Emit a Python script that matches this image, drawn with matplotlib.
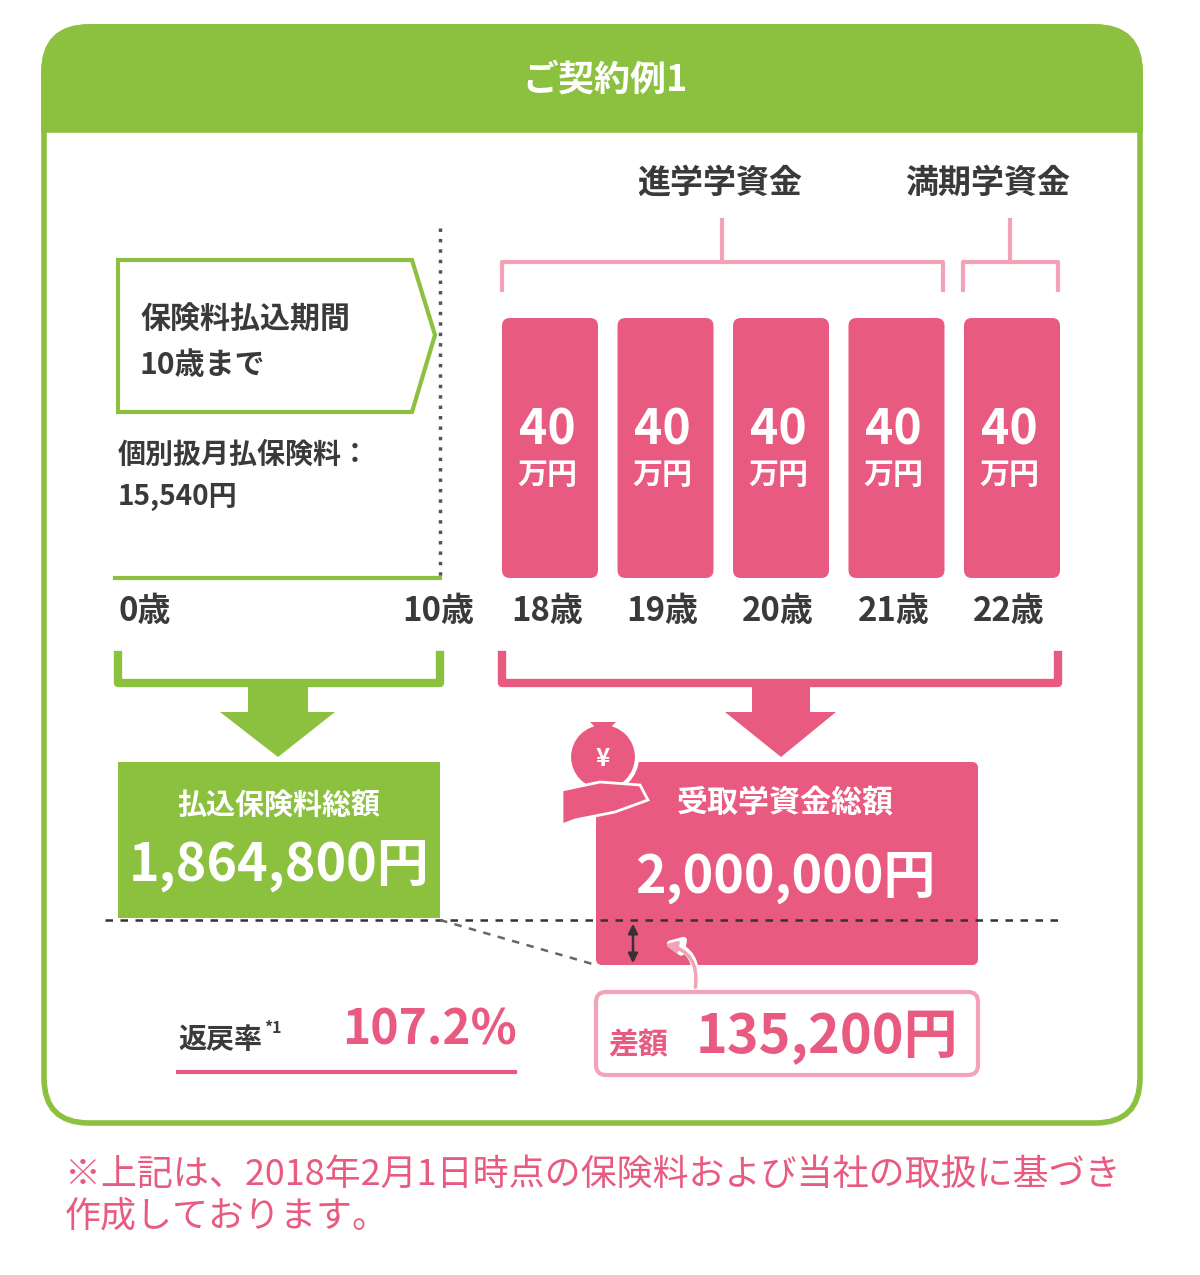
import matplotlib
matplotlib.use("Agg")
import matplotlib.pyplot as plt
from matplotlib.patches import FancyBboxPatch, Polygon, Rectangle, Circle, FancyArrowPatch

plt.rcParams['font.family'] = ['Noto Sans CJK JP', 'DejaVu Sans']

ages = ["18歳", "19歳", "20歳", "21歳", "22歳"]
amounts = [40, 40, 40, 40, 40]
unit = "万円"
title = "ご契約例1"
paid_total = "1,864,800円"
received_total = "2,000,000円"
diff = "135,200円"
rate = "107.2%"

G = "#8cc03f"; P = "#e95a80"; LP = "#f2a3b8"; T = "#3a3a3a"
fig = plt.figure(figsize=(12, 12.75), dpi=100)
ax = fig.add_axes([0, 0, 1, 1])
ax.set_xlim(0, 1200); ax.set_ylim(1275, 0); ax.axis('off')
px = 0.72

ax.add_patch(FancyBboxPatch((44, 27), 1096, 1096, boxstyle="round,pad=0,rounding_size=45", fc="white", ec=G, lw=4))
ax.add_patch(FancyBboxPatch((44, 27), 1096, 90, boxstyle="round,pad=0,rounding_size=45", fc=G, ec=G, lw=4))
ax.add_patch(Rectangle((44, 75), 1096, 55, fc=G, ec=G, lw=4))
ax.text(605, 80, title, color="white", fontsize=36*px, weight="bold", ha="center", va="center")

# payment period box
ax.add_patch(Polygon([(118, 260), (412, 260), (435, 335), (412, 412), (118, 412)], closed=True, fc="white", ec=G, lw=3))
ax.text(140, 320, "保険料払込期間", color=T, fontsize=30*px, weight="bold", va="center")
ax.text(140, 365, "10歳まで", color=T, fontsize=30*px, weight="bold", va="center")
ax.text(118, 455, "個別扱月払保険料：", color=T, fontsize=28*px, weight="bold", va="center")
ax.text(118, 497, "15,540円", color=T, fontsize=28*px, weight="bold", va="center")
ax.plot([440, 440], [228, 578], color="#555", lw=2.5, ls=(0, (1, 2)))
ax.plot([115, 440], [578, 578], color=G, lw=3)
ax.text(118, 612, "0歳", color=T, fontsize=33*px, weight="bold", va="center")
ax.text(474, 612, "10歳", color=T, fontsize=33*px, weight="bold", va="center", ha="right")

# bars
xs = [550 + 115.5 * i for i in range(len(ages))]
for x, a, v in zip(xs, ages, amounts):
    ax.add_patch(FancyBboxPatch((x - 44, 322), 88, 252, boxstyle="round,pad=4,rounding_size=8", fc=P, ec="none"))
    ax.text(x - 3, 430, str(v), color="white", fontsize=48*px, weight="bold", ha="center", va="center")
    ax.text(x - 3, 475, unit, color="white", fontsize=30*px, weight="bold", ha="center", va="center")
    ax.text(x - 3, 612, a, color=T, fontsize=33*px, weight="bold", ha="center", va="center")

# top brackets
ax.plot([502, 502, 943, 943], [290, 262, 262, 290], color=LP, lw=3)
ax.plot([722, 722], [262, 220], color=LP, lw=3)
ax.plot([963, 963, 1058, 1058], [290, 262, 262, 290], color=LP, lw=3)
ax.plot([1010, 1010], [262, 220], color=LP, lw=3)
ax.text(720, 183, "進学学資金", color=T, fontsize=33*px, weight="bold", ha="center", va="center")
ax.text(988, 183, "満期学資金", color=T, fontsize=33*px, weight="bold", ha="center", va="center")

# bottom brackets and arrows
ax.plot([118, 118, 440, 440], [655, 683, 683, 655], color=G, lw=6)
ax.add_patch(Polygon([(248, 683), (308, 683), (308, 712), (335, 712), (278, 757), (220, 712), (248, 712)], fc=G, ec="none"))
ax.plot([502, 502, 1058, 1058], [655, 683, 683, 655], color=P, lw=6)
ax.add_patch(Polygon([(752, 683), (810, 683), (810, 712), (836, 712), (781, 757), (725, 712), (752, 712)], fc=P, ec="none"))

# totals
ax.add_patch(Rectangle((118, 762), 322, 156, fc=G, ec="none"))
ax.text(279, 805, "払込保険料総額", color="white", fontsize=29*px, weight="bold", ha="center", va="center")
ax.text(279, 865, paid_total, color="white", fontsize=52*px, weight="bold", ha="center", va="center")
ax.add_patch(FancyBboxPatch((596, 762), 382, 203, boxstyle="round,pad=0,rounding_size=6", fc=P, ec="none"))
ax.text(785, 803, "受取学資金総額", color="white", fontsize=31*px, weight="bold", ha="center", va="center")
ax.text(785, 877, received_total, color="white", fontsize=52*px, weight="bold", ha="center", va="center")

# money icon
ax.add_patch(Circle((603, 757), 34, fc=P, ec="white", lw=3))
ax.add_patch(Polygon([(590, 722), (616, 722), (608, 730), (598, 730)], fc=P, ec="none"))
ax.text(603, 759, "¥", color="white", fontsize=24*px, weight="bold", ha="center", va="center")
ax.add_patch(Polygon([(562, 790), (600, 782), (640, 785), (648, 800), (615, 812), (575, 820), (562, 825)], fc=P, ec="white", lw=2))

ax.plot([105, 1058], [920, 920], color="#333", lw=1.8, ls=(0, (3, 3)))
ax.plot([440, 596], [920, 965], color="#666", lw=1.8, ls=(0, (3, 3)))
ax.add_patch(FancyArrowPatch((633, 921), (633, 966), arrowstyle="<|-|>", mutation_scale=14, color="#333", lw=1.8))
ax.add_patch(FancyArrowPatch((695, 990), (660, 942), connectionstyle="arc3,rad=0.5", arrowstyle="-|>", mutation_scale=22, color="white", lw=5))
ax.add_patch(FancyArrowPatch((695, 990), (662, 944), connectionstyle="arc3,rad=0.5", arrowstyle="-|>", mutation_scale=16, color=LP, lw=2.5))

ax.add_patch(FancyBboxPatch((596, 992), 382, 83, boxstyle="round,pad=0,rounding_size=10", fc="white", ec=LP, lw=3))
ax.text(608, 1045, "差額", color=P, fontsize=30*px, weight="bold", va="center")
ax.text(696, 1038, diff, color=P, fontsize=54*px, weight="bold", va="center")
ax.text(178, 1040, "返戻率", color=T, fontsize=28*px, weight="bold", va="center")
ax.text(264, 1028, "*1", color=T, fontsize=16*px, weight="bold", va="center")
ax.text(342, 1030, rate, color=P, fontsize=48*px, weight="bold", va="center")
ax.plot([178, 515], [1072, 1072], color=P, lw=3)

ax.text(65, 1175, "※上記は、2018年2月1日時点の保険料および当社の取扱に基づき", color=P, fontsize=36*px, va="center")
ax.text(65, 1217, "作成しております。", color=P, fontsize=36*px, va="center")

fig.savefig("out.png", dpi=100)
